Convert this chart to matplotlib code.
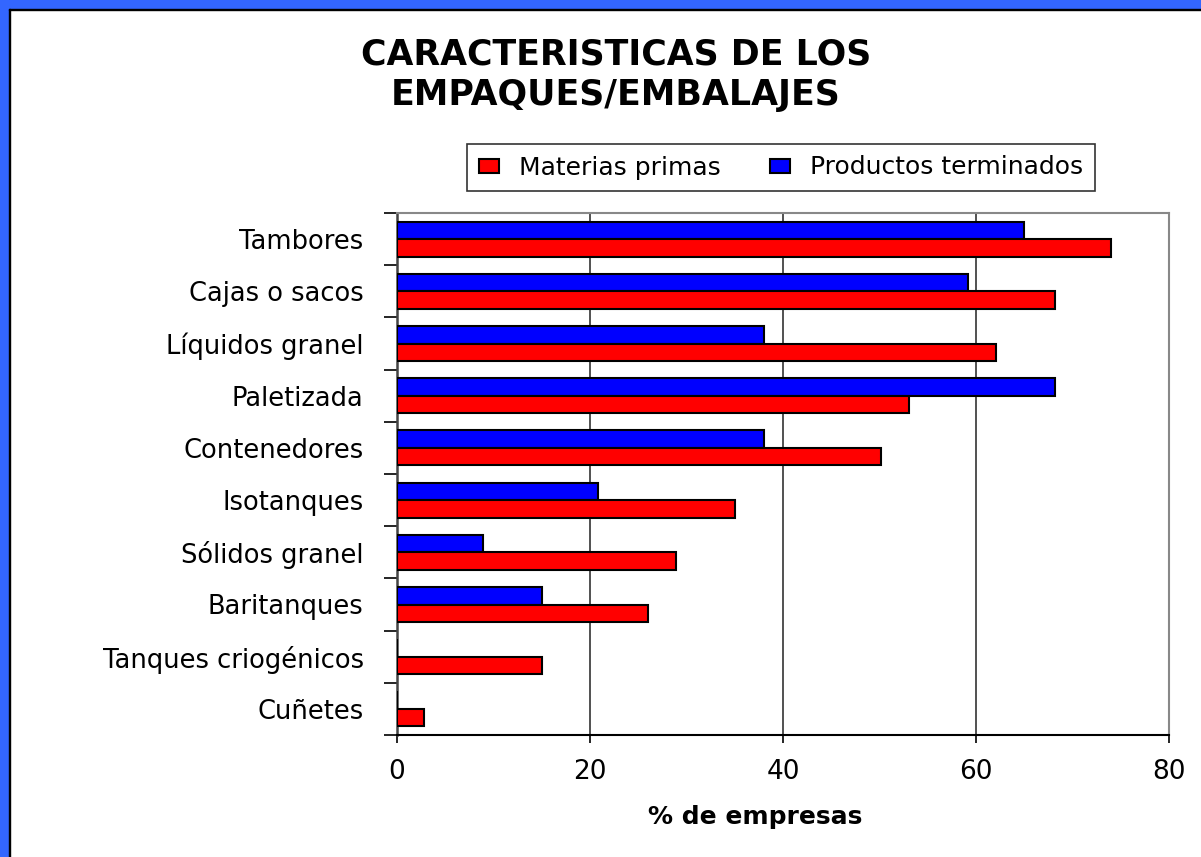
import matplotlib
matplotlib.use("Agg")
import matplotlib.pyplot as plt
from matplotlib.patches import Rectangle
import numpy as np

categories = ["Tambores", "Cajas o sacos", "Líquidos granel", "Paletizada",
              "Contenedores", "Isotanques", "Sólidos granel", "Baritanques",
              "Tanques criogénicos", "Cuñetes"]
materias_primas = [74, 68.2, 62.1, 53.1, 50.2, 35.0, 28.9, 26.0, 15.0, 2.8]
productos_terminados = [65, 59.2, 38.0, 68.2, 38.0, 20.8, 8.9, 15.0, 0, 0]
xticks = [0, 20, 40, 60, 80]

plt.rcParams['font.family'] = ['DejaVu Sans']

W, H = 1201, 857
fig = plt.figure(figsize=(W / 100, H / 100), dpi=100)
fig.patch.set_facecolor("white")

# blue frame on left and top
blue = "#3366FF"
fig.patches.append(Rectangle((0, 0), 9 / W, 1, transform=fig.transFigure, color=blue, zorder=0))
fig.patches.append(Rectangle((0, 1 - 9 / H), 1, 9 / H, transform=fig.transFigure, color=blue, zorder=0))
fig.patches.append(Rectangle((9 / W, 0), 1.3 / W, 1 - 9 / H, transform=fig.transFigure, color="black", zorder=0))
fig.patches.append(Rectangle((9 / W, 1 - 10.3 / H), 1 - 9 / W, 1.3 / H, transform=fig.transFigure, color="black", zorder=0))

left, right, top, bottom = 397, 1169, 213, 735
ax = fig.add_axes([left / W, 1 - bottom / H, (right - left) / W, (bottom - top) / H])

y = np.arange(len(categories))
h = 0.335
b1 = ax.barh(y - h / 2, productos_terminados, height=h, color="#0000FF",
             edgecolor="black", linewidth=1.5, label="Productos terminados", zorder=3)
b2 = ax.barh(y + h / 2, materias_primas, height=h, color="#FF0000",
             edgecolor="black", linewidth=1.5, label="Materias primas", zorder=3)

ax.set_xlim(0, 80)
ax.set_ylim(len(categories) - 0.5, -0.5)

# grid
ax.set_xticks(xticks)
ax.set_xticklabels([str(v) for v in xticks], fontsize=19)
for v in xticks[1:-1]:
    ax.axvline(v, color="#333333", linewidth=1.2, zorder=1)

# y ticks at boundaries, labels at centres
ax.set_yticks(np.arange(len(categories) + 1) - 0.5)
ax.set_yticklabels([])
ax.set_yticks(y, minor=True)
ax.set_yticklabels(categories, minor=True, fontsize=18.5)
ax.tick_params(axis="y", which="major", length=9.4, width=1.2, color="black", direction="out")
ax.tick_params(axis="y", which="minor", length=0, pad=24)
ax.tick_params(axis="x", length=6, width=1.2, direction="out", pad=11)

for s in ["top", "right"]:
    ax.spines[s].set_color("#888888")
    ax.spines[s].set_linewidth(1.5)
ax.spines["left"].set_color("#444444")
ax.spines["left"].set_linewidth(1.8)
ax.spines["bottom"].set_color("black")
ax.spines["bottom"].set_linewidth(1.5)

ax.set_xlabel("% de empresas", fontsize=18, fontweight="bold", va="center")
ax.xaxis.set_label_coords((755.5 - left) / (right - left), -(817 - bottom) / (bottom - top))

fig.text(616 / W, 1 - 75 / H, "CARACTERISTICAS DE LOS\nEMPAQUES/EMBALAJES",
         ha="center", va="center", fontsize=25, fontweight="bold", linespacing=1.25)

leg = fig.legend(handles=[b2, b1], labels=["Materias primas", "Productos terminados"],
                 loc="center", bbox_to_anchor=(781 / W, 1 - 167.5 / H), ncol=2,
                 fontsize=18, frameon=True, fancybox=False, shadow=False,
                 handlelength=0.8, handleheight=0.5, handletextpad=0.8,
                 columnspacing=2.0, borderpad=0.45, borderaxespad=0)
leg.get_frame().set_edgecolor("black")
leg.get_frame().set_linewidth(1.2)

fig.savefig("out.png", dpi=100, facecolor="white")
